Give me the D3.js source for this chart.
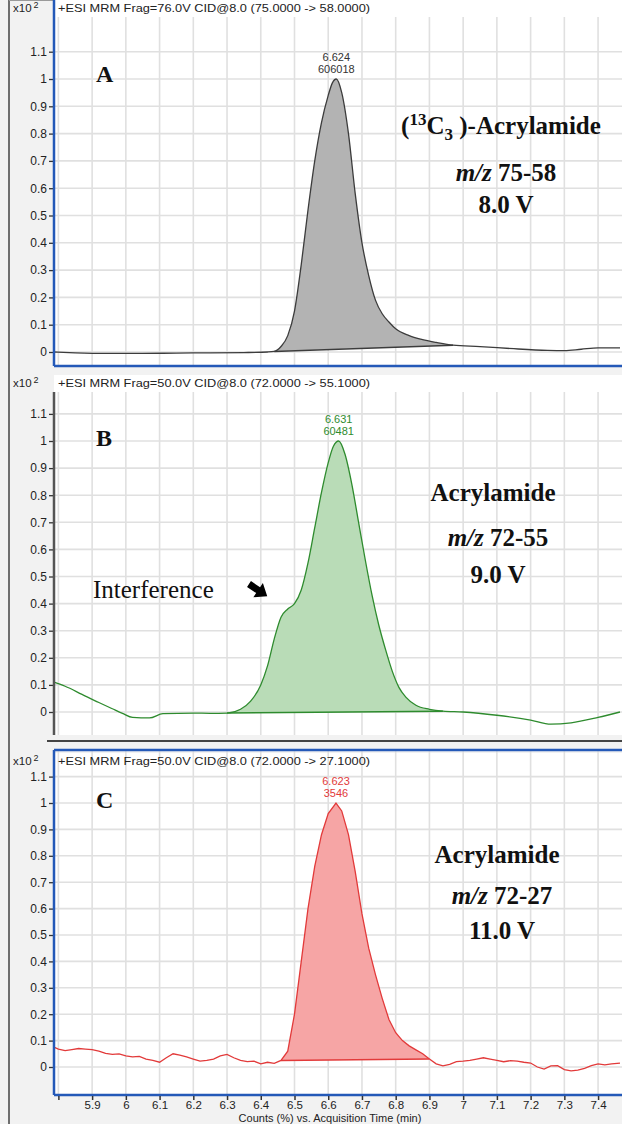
<!DOCTYPE html>
<html>
<head>
<meta charset="utf-8">
<script src="https://cdn.jsdelivr.net/npm/d3@7"></script>
<style>
  body { margin: 0; background: #f2f2f2; }
  svg { display: block; }
</style>
</head>
<body>
<svg width="622" height="1124"></svg>
<script>
// ---- data (time in min, counts in x10^2 %) ----
var timeA   = [5.787, 5.85, 5.95, 6.05, 6.15, 6.25, 6.35, 6.42, 6.44, 6.46, 6.48, 6.50, 6.52, 6.54, 6.56, 6.58, 6.60, 6.612, 6.624, 6.64, 6.66, 6.68, 6.70, 6.72, 6.74, 6.76, 6.78, 6.80, 6.84, 6.88, 6.92, 6.97, 7.05, 7.15, 7.25, 7.30, 7.35, 7.40, 7.465];
var countsA = [0.0, -0.003, -0.005, -0.005, -0.004, -0.003, -0.002, 0.0, 0.002, 0.02, 0.06, 0.15, 0.32, 0.52, 0.70, 0.84, 0.94, 0.985, 1.0, 0.95, 0.80, 0.58, 0.40, 0.28, 0.19, 0.14, 0.11, 0.085, 0.06, 0.045, 0.035, 0.025, 0.02, 0.012, 0.006, 0.005, 0.01, 0.015, 0.015];

var timeB   = [5.787, 5.82, 5.87, 5.92, 5.96, 5.99, 6.02, 6.07, 6.11, 6.2, 6.25, 6.3, 6.34, 6.37, 6.40, 6.42, 6.44, 6.46, 6.48, 6.50, 6.52, 6.54, 6.56, 6.58, 6.60, 6.615, 6.631, 6.65, 6.67, 6.69, 6.71, 6.73, 6.75, 6.77, 6.79, 6.81, 6.83, 6.86, 6.90, 6.94, 7.0, 7.1, 7.2, 7.26, 7.32, 7.4, 7.465];
var countsB = [0.11, 0.095, 0.065, 0.035, 0.012, -0.005, -0.02, -0.022, -0.006, -0.004, -0.005, -0.004, 0.01, 0.04, 0.10, 0.17, 0.27, 0.35, 0.38, 0.40, 0.45, 0.55, 0.68, 0.81, 0.92, 0.98, 1.0, 0.95, 0.84, 0.70, 0.56, 0.43, 0.32, 0.23, 0.15, 0.09, 0.055, 0.025, 0.01, 0.003, 0.0, -0.012, -0.03, -0.045, -0.04, -0.02, 0.0];

var timeC   = [5.787, 5.80, 5.82, 5.84, 5.86, 5.88, 5.90, 5.92, 5.94, 5.96, 5.98, 6.0, 6.02, 6.04, 6.06, 6.08, 6.10, 6.12, 6.14, 6.16, 6.18, 6.20, 6.22, 6.24, 6.26, 6.28, 6.30, 6.32, 6.34, 6.36, 6.38, 6.40, 6.42, 6.44, 6.46, 6.48, 6.50, 6.52, 6.54, 6.56, 6.58, 6.60, 6.623, 6.64, 6.66, 6.68, 6.70, 6.72, 6.74, 6.76, 6.78, 6.80, 6.82, 6.84, 6.86, 6.88, 6.90, 6.92, 6.94, 6.96, 6.98, 7.0, 7.02, 7.04, 7.06, 7.08, 7.10, 7.12, 7.14, 7.16, 7.18, 7.20, 7.22, 7.24, 7.26, 7.28, 7.30, 7.32, 7.34, 7.36, 7.38, 7.40, 7.42, 7.44, 7.465];
var countsC = [0.075, 0.068, 0.062, 0.066, 0.07, 0.068, 0.066, 0.06, 0.052, 0.048, 0.05, 0.042, 0.038, 0.04, 0.03, 0.025, 0.018, 0.035, 0.05, 0.045, 0.038, 0.03, 0.022, 0.025, 0.03, 0.042, 0.048, 0.035, 0.025, 0.02, 0.022, 0.012, 0.018, 0.014, 0.025, 0.06, 0.2, 0.4, 0.6, 0.76, 0.88, 0.96, 1.0, 0.97, 0.88, 0.74, 0.58, 0.45, 0.35, 0.26, 0.18, 0.13, 0.10, 0.08, 0.065, 0.05, 0.03, 0.012, 0.004, 0.01, 0.02, 0.022, 0.025, 0.03, 0.035, 0.03, 0.025, 0.02, 0.024, 0.022, 0.018, 0.015, 0.0, -0.008, 0.004, 0.005, -0.01, -0.015, -0.012, -0.005, 0.005, 0.012, 0.008, 0.012, 0.015];

// integration limits (start, end) and peak labels
var peakA = { start: 6.44, end: 6.97, rt: "6.624", area: "606018" };
var peakB = { start: 6.30, end: 6.94, rt: "6.631", area: "60481" };
var peakC = { start: 6.46, end: 6.90, rt: "6.623", area: "3546" };

var headers = [
  "+ESI MRM  Frag=76.0V CID@8.0 (75.0000 -> 58.0000)",
  "+ESI MRM  Frag=50.0V CID@8.0 (72.0000 -> 55.1000)",
  "+ESI MRM  Frag=50.0V CID@8.0 (72.0000 -> 27.1000)"
];
var panelLetters = ["A", "B", "C"];
var compounds = ["Acrylamide", "Acrylamide", "Acrylamide"];
var transitions = ["75-58", "72-55", "72-27"];
var voltages = ["8.0 V", "9.0 V", "11.0 V"];

var yTicks = [0, 0.1, 0.2, 0.3, 0.4, 0.5, 0.6, 0.7, 0.8, 0.9, 1, 1.1];
var xTicks = [5.8, 5.9, 6, 6.1, 6.2, 6.3, 6.4, 6.5, 6.6, 6.7, 6.8, 6.9, 7, 7.1, 7.2, 7.3, 7.4];

// ---- layout ----
var svg = d3.select("svg");
var left = 54, right = 620;
var x = d3.scaleLinear().domain([5.787, 7.465]).range([left, right]);
var sans = "'Liberation Sans', sans-serif";

var panels = [
  { time: timeA, counts: countsA, peak: peakA, top: 17, bottom: 366, y0: 352, y1: 79, head: 12,
    line: "#3c3c3c", fill: "#b3b3b3", label: "#333", axis: "#2459b8", curve: d3.curveMonotoneX },
  { time: timeB, counts: countsB, peak: peakB, top: 392, bottom: 735, y0: 712, y1: 441, head: 387,
    line: "#2e8b2e", fill: "#b9dcb7", label: "#2e8b2e", axis: "#555", curve: d3.curveMonotoneX },
  { time: timeC, counts: countsC, peak: peakC, top: 750, bottom: 1095, y0: 1067, y1: 803, head: 765,
    line: "#e23a3a", fill: "#f6a5a5", label: "#e23a3a", axis: "#2459b8", curve: d3.curveLinear }
];

// outer frame
svg.append("rect").attr("x", 0).attr("y", 0).attr("width", 622).attr("height", 1124).attr("fill", "#f2f2f2");
svg.append("line").attr("x1", 9).attr("x2", 9).attr("y1", 0).attr("y2", 1124)
  .attr("stroke", "#6e6e6e").attr("stroke-width", 2);
svg.append("line").attr("x1", 9).attr("x2", 622).attr("y1", 0.5).attr("y2", 0.5)
  .attr("stroke", "#9a9a9a").attr("stroke-width", 1);

panels.forEach(function(p, i) {
  var y = d3.scaleLinear().domain([0, 1]).range([p.y0, p.y1]);
  var g = svg.append("g");

  // plot background incl. header row
  g.append("rect").attr("x", left).attr("y", p.head - 12).attr("width", 622 - left)
    .attr("height", p.bottom - p.head + 12).attr("fill", "#fff");

  // grid
  g.selectAll("line.vgrid").data(xTicks).enter().append("line")
    .attr("class", "vgrid")
    .attr("x1", d => x(d)).attr("x2", d => x(d))
    .attr("y1", p.top).attr("y2", p.bottom)
    .attr("stroke", "#e0e0e0").attr("stroke-width", 1.6);
  g.selectAll("line.hgrid").data(yTicks).enter().append("line")
    .attr("class", "hgrid")
    .attr("x1", left).attr("x2", 622)
    .attr("y1", d => y(d)).attr("y2", d => y(d))
    .attr("stroke", "#e0e0e0").attr("stroke-width", 1.6);

  // header
  g.append("text").attr("x", 58).attr("y", p.head)
    .attr("textLength", 312).attr("lengthAdjust", "spacingAndGlyphs")
    .style("font", "11.5px " + sans).attr("fill", "#222")
    .text(headers[i]);
  var xt = g.append("text").attr("x", 13).attr("y", p.head)
    .style("font", "11.5px " + sans).attr("fill", "#222");
  xt.append("tspan").text("x10");
  xt.append("tspan").attr("dy", -4).attr("dx", 2).style("font-size", "9px").text("2");

  // peak fill with straight integration baseline
  var pts = p.time.map((t, k) => ({ t: t, v: p.counts[k] }))
    .filter(d => d.t >= p.peak.start - 1e-9 && d.t <= p.peak.end + 1e-9);
  var s = pts[0], e = pts[pts.length - 1];
  var base = d3.scaleLinear().domain([s.t, e.t]).range([s.v, e.v]);
  var area = d3.area().curve(p.curve)
    .x(d => x(d.t)).y0(d => y(base(d.t))).y1(d => y(d.v));
  g.append("path").datum(pts).attr("d", area)
    .attr("fill", p.fill).attr("stroke", "none");
  g.append("line").attr("x1", x(s.t)).attr("x2", x(e.t))
    .attr("y1", y(s.v)).attr("y2", y(e.v))
    .attr("stroke", p.line).attr("stroke-width", 1.5);

  // trace
  var line = d3.line().curve(p.curve)
    .x((d, k) => x(p.time[k])).y(d => y(d));
  g.append("path").datum(p.counts).attr("d", line)
    .attr("fill", "none").attr("stroke", p.line).attr("stroke-width", 1.3);

  // peak label
  var px = x(+p.peak.rt);
  g.append("text").attr("x", px).attr("y", y(1) - 18).attr("text-anchor", "middle")
    .style("font", "11px " + sans).attr("fill", p.label).text(p.peak.rt);
  g.append("text").attr("x", px).attr("y", y(1) - 6).attr("text-anchor", "middle")
    .style("font", "11px " + sans).attr("fill", p.label).text(p.peak.area);

  // y axis
  var ax = g.append("g").attr("transform", "translate(" + left + ",0)")
    .call(d3.axisLeft(y).tickValues(yTicks).tickSize(5).tickPadding(2)
      .tickFormat(d => d3.format("~g")(d)));
  ax.select(".domain").remove();
  ax.selectAll("line").attr("stroke", "#333").attr("stroke-width", 1.3);
  ax.selectAll("text").style("font", "12px " + sans).attr("fill", "#222");

  // axis frame
  g.append("line").attr("x1", left).attr("x2", left)
    .attr("y1", i === 0 ? 0 : p.top).attr("y2", p.bottom)
    .attr("stroke", p.axis).attr("stroke-width", 2.5);
  if (i !== 1) {
    g.append("line").attr("x1", left).attr("x2", 622).attr("y1", p.bottom).attr("y2", p.bottom)
      .attr("stroke", p.axis).attr("stroke-width", 2.5);
  }
  if (i === 2) {
    g.append("line").attr("x1", left).attr("x2", 622).attr("y1", p.top).attr("y2", p.top)
      .attr("stroke", p.axis).attr("stroke-width", 2.5);
  }

  // panel letter
  g.append("text").attr("x", 96).attr("y", y(1) - (i === 0 ? -3 : -5))
    .style("font", "bold 24px 'Liberation Serif', serif").attr("fill", "#111")
    .text(panelLetters[i]);
});

// separator under panel B
svg.append("line").attr("x1", 47).attr("x2", 622).attr("y1", 741).attr("y2", 741)
  .attr("stroke", "#444").attr("stroke-width", 2);

// compound annotations
var annoFont = "bold 25px 'Liberation Serif', serif";
var annoY = [[134, 181, 213], [501, 546, 583], [863, 904, 939]];
var annoX = [501, 493, 497];
panels.forEach(function(p, i) {
  var t1 = svg.append("text").attr("x", annoX[i]).attr("y", annoY[i][0]).attr("text-anchor", "middle")
    .style("font", annoFont).attr("fill", "#111");
  if (i === 0) {
    t1.append("tspan").text("(");
    t1.append("tspan").attr("dy", -9).style("font-size", "17px").text("13");
    t1.append("tspan").attr("dy", 9).text("C");
    t1.append("tspan").attr("dy", 6).style("font-size", "17px").text("3");
    t1.append("tspan").attr("dy", -6).text(" )-" + compounds[i]);
  } else {
    t1.text(compounds[i]);
  }
  var t2 = svg.append("text").attr("x", annoX[i] + 5).attr("y", annoY[i][1]).attr("text-anchor", "middle")
    .style("font", annoFont).attr("fill", "#111");
  t2.append("tspan").style("font-style", "italic").text("m/z");
  t2.append("tspan").text(" " + transitions[i]);
  svg.append("text").attr("x", annoX[i] + 5).attr("y", annoY[i][2]).attr("text-anchor", "middle")
    .style("font", annoFont).attr("fill", "#111").text(voltages[i]);
});

// interference note + arrow
svg.append("text").attr("x", 93).attr("y", 598)
  .style("font", "25px 'Liberation Serif', serif").attr("fill", "#111").text("Interference");
svg.append("path")
  .attr("d", "M0,-3.5 L11,-3.5 L11,-8.5 L22,0 L11,8.5 L11,3.5 L0,3.5 Z")
  .attr("transform", "translate(249,584) rotate(34)")
  .attr("fill", "#000");

// x axis (bottom of panel C)
var xa = svg.append("g").attr("transform", "translate(0,1096)")
  .call(d3.axisBottom(x).tickValues(xTicks).tickSize(4).tickPadding(1)
    .tickFormat(d => d === 5.8 ? "" : d3.format("~g")(d)));
xa.select(".domain").remove();
xa.selectAll("line").attr("stroke", "#333").attr("stroke-width", 1.5);
xa.selectAll("text").style("font", "11.5px " + sans).attr("fill", "#222");

svg.append("text").attr("x", 330).attr("y", 1122).attr("text-anchor", "middle")
  .style("font", "11px " + sans).attr("fill", "#222")
  .text("Counts (%) vs. Acquisition Time (min)");
</script>
</body>
</html>
